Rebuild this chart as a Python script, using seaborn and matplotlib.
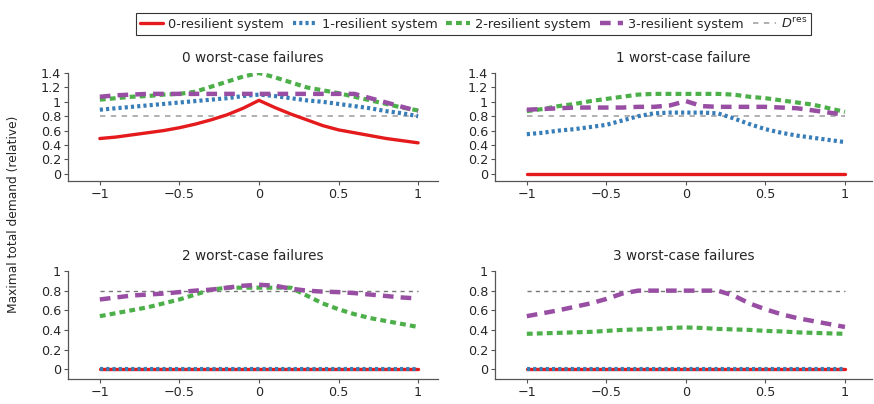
import numpy as np
import pandas as pd
import matplotlib
matplotlib.use("Agg")
import matplotlib.pyplot as plt
from matplotlib.ticker import FuncFormatter
import seaborn as sns

# shared x grid
x = [-1.0, -0.9, -0.8, -0.7, -0.6, -0.5, -0.4, -0.3, -0.2, -0.1, 0.0,
     0.1, 0.2, 0.3, 0.4, 0.5, 0.6, 0.7, 0.8, 0.9, 1.0]

d_res = 0.8
zeros = [0.0] * 21

# 0 worst-case failures
r0 = [0.49, 0.51, 0.54, 0.57, 0.60, 0.64, 0.69, 0.75, 0.82, 0.91, 1.02,
      0.92, 0.83, 0.75, 0.67, 0.61, 0.57, 0.53, 0.49, 0.46, 0.43]
b0 = [0.89, 0.91, 0.93, 0.95, 0.97, 0.99, 1.01, 1.03, 1.05, 1.08, 1.10,
      1.08, 1.05, 1.02, 1.00, 0.97, 0.94, 0.91, 0.87, 0.84, 0.80]
g0 = [1.03, 1.05, 1.07, 1.08, 1.10, 1.11, 1.14, 1.21, 1.28, 1.35, 1.40,
      1.34, 1.27, 1.20, 1.16, 1.12, 1.07, 1.02, 0.97, 0.92, 0.88]
p0 = [1.07, 1.09, 1.10, 1.11, 1.11, 1.11, 1.11, 1.11, 1.11, 1.11, 1.11,
      1.11, 1.11, 1.11, 1.11, 1.11, 1.11, 1.05, 0.99, 0.93, 0.87]

# 1 worst-case failure
r1 = zeros
b1 = [0.55, 0.57, 0.60, 0.62, 0.65, 0.68, 0.74, 0.80, 0.84, 0.85, 0.85,
      0.85, 0.84, 0.77, 0.69, 0.62, 0.57, 0.53, 0.50, 0.47, 0.44]
g1 = [0.87, 0.90, 0.94, 0.97, 1.01, 1.04, 1.07, 1.10, 1.11, 1.11, 1.11,
      1.11, 1.11, 1.10, 1.07, 1.05, 1.02, 0.99, 0.96, 0.91, 0.86]
p1 = [0.89, 0.90, 0.91, 0.92, 0.92, 0.92, 0.92, 0.93, 0.93, 0.95, 1.01,
      0.94, 0.93, 0.93, 0.93, 0.93, 0.92, 0.91, 0.88, 0.85, 0.82]

# 2 worst-case failures
r2 = zeros
b2 = zeros
g2 = [0.54, 0.57, 0.60, 0.63, 0.67, 0.71, 0.76, 0.81, 0.83, 0.83, 0.83,
      0.83, 0.83, 0.75, 0.67, 0.61, 0.56, 0.52, 0.49, 0.46, 0.43]
p2 = [0.71, 0.73, 0.75, 0.76, 0.77, 0.785, 0.80, 0.81, 0.83, 0.85, 0.86,
      0.85, 0.82, 0.80, 0.79, 0.785, 0.775, 0.76, 0.745, 0.73, 0.72]

# 3 worst-case failures
r3 = zeros
b3 = zeros
g3 = [0.36, 0.365, 0.37, 0.375, 0.38, 0.39, 0.40, 0.405, 0.41, 0.42, 0.425,
      0.42, 0.41, 0.405, 0.40, 0.39, 0.385, 0.375, 0.37, 0.365, 0.36]
p3 = [0.54, 0.57, 0.60, 0.635, 0.67, 0.715, 0.77, 0.80, 0.80, 0.80, 0.80,
      0.80, 0.80, 0.75, 0.67, 0.61, 0.56, 0.52, 0.49, 0.46, 0.43]

titles = ["0 worst-case failures", "1 worst-case failure",
          "2 worst-case failures", "3 worst-case failures"]
labels = ["0-resilient system", "1-resilient system",
          "2-resilient system", "3-resilient system"]
panels = [[r0, b0, g0, p0], [r1, b1, g1, p1], [r2, b2, g2, p2], [r3, b3, g3, p3]]

colors = ["#e41a1c", "#377eb8", "#4daf4a", "#984ea3"]
widths = [2.4, 3.0, 3.0, 3.2]
dashes = [None, (0.75, 0.75), (1.4, 1.0), (2.4, 1.6)]

sns.set_style("ticks")
plt.rcParams['font.family'] = ['DejaVu Sans']
plt.rcParams['font.size'] = 9

fig = plt.figure(figsize=(8.74, 4.04), dpi=100)
W, H = 874.0, 404.0
# axes boxes in pixels: left, top, right, bottom
boxes = [(68, 73, 438, 181), (495, 73, 872, 181),
         (68, 271, 438, 379), (495, 271, 872, 379)]
xlims = [(-1.2, 1.125), (-1.2, 1.17), (-1.2, 1.125), (-1.2, 1.17)]
ylims = [(-0.1, 1.4), (-0.1, 1.4), (-0.1, 1.0), (-0.1, 1.0)]
yticks = [np.arange(0, 1.41, 0.2), np.arange(0, 1.41, 0.2),
          np.arange(0, 1.01, 0.2), np.arange(0, 1.01, 0.2)]
dres_style = [("#aaaaaa", 1.3), ("#aaaaaa", 1.3), ("#777777", 1.0), ("#777777", 1.0)]

fmt = FuncFormatter(lambda v, p: f"{v:g}".replace("-", "\u2212"))

handles = []
for i, (l, t, r, b) in enumerate(boxes):
    ax = fig.add_axes([l / W, 1 - b / H, (r - l) / W, (b - t) / H])
    dc, dw = dres_style[i]
    ax.plot([-1, 1], [d_res, d_res], color=dc, lw=dw, dashes=(3, 3))
    for j, ys in enumerate(panels[i]):
        df = pd.DataFrame({"x": x, "y": ys})
        sns.lineplot(data=df, x="x", y="y", ax=ax, color=colors[j],
                     lw=widths[j], label=labels[j] if i == 0 else None,
                     legend=False)
        line = ax.lines[-1]
        if dashes[j] is not None:
            line.set_dashes(dashes[j])
        line.set_dash_capstyle("butt")
    ax.set_xlim(*xlims[i])
    ax.set_ylim(*ylims[i])
    ax.set_xticks([-1, -0.5, 0, 0.5, 1])
    ax.set_yticks(yticks[i])
    ax.xaxis.set_major_formatter(fmt)
    ax.yaxis.set_major_formatter(fmt)
    ax.set_xlabel("")
    ax.set_ylabel("")
    ax.set_title(titles[i], fontsize=9.8, pad=8)
    sns.despine(ax=ax)
    for s in ["left", "bottom"]:
        ax.spines[s].set_color("#555555")
        ax.spines[s].set_linewidth(0.9)
    ax.tick_params(length=3, width=0.8, color="#555555", labelsize=9.2, pad=2)
    if i == 0:
        handles = ax.lines[1:5] + ax.lines[:1]

leg_labels = labels + ["$D^{\\mathrm{res}}$"]
leg = fig.legend(handles, leg_labels, loc="upper center", ncol=5,
                 bbox_to_anchor=(0.542, 0.985), frameon=True, fancybox=False,
                 edgecolor="black", fontsize=9.3, handlelength=1.8,
                 handletextpad=0.4, columnspacing=0.7, borderpad=0.3)
leg.get_frame().set_linewidth(0.8)

fig.text(0.016, 0.47, "Maximal total demand (relative)", rotation=90,
         ha="center", va="center", fontsize=8.8)

fig.savefig("out.png", dpi=100)
